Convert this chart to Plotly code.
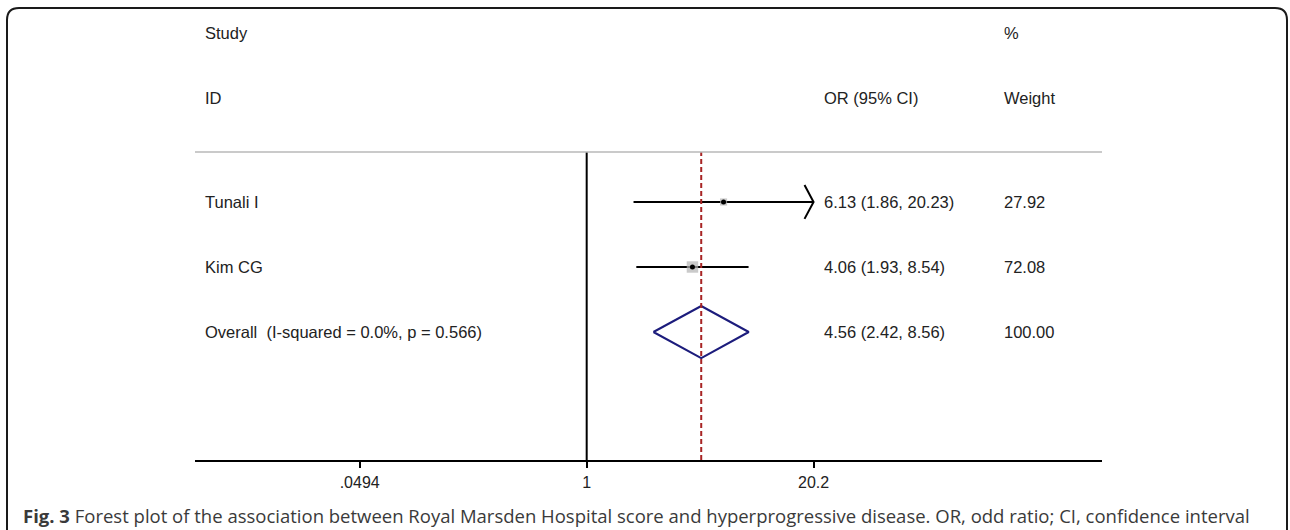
import plotly.graph_objects as go
import math

# ---------------- data ----------------
studies = ["Tunali I", "Kim CG"]
or_est = [6.13, 4.06]
ci_low = [1.86, 1.93]
ci_high = [20.23, 8.54]
weights = [27.92, 72.08]

overall_label = "Overall  (I-squared = 0.0%, p = 0.566)"
overall_or = 4.56
overall_low = 2.42
overall_high = 8.56
overall_weight = 100.00

tick_vals = [0.0494, 1, 20.2]
tick_text = [".0494", "1", "20.2"]

header_left = ["Study", "ID"]
header_or = ["", "OR (95% CI)"]
header_wt = ["%", "Weight"]

caption_bold = "Fig. 3"
caption_text = ("Forest plot of the association between Royal Marsden Hospital score and "
                "hyperprogressive disease. OR, odd ratio; CI, confidence interval")

# ---------------- layout helpers ----------------
W, H = 1290, 530
def px(x):
    return x / W
def py(y):
    return (H - y) / H

row_y = [4, 3]          # study rows
overall_y = 2
header_py = [33, 98]    # header rows (pixel positions)
x_max = max(tick_vals)  # axis clip value

TXT = "#222222"
FONT = "Liberation Sans, Arial, sans-serif"
FS = 16.5

fig = go.Figure()

# CI lines (clipped at axis max with arrow)
for i in range(len(studies)):
    hi = min(ci_high[i], x_max)
    fig.add_trace(go.Scatter(x=[ci_low[i], hi], y=[row_y[i], row_y[i]], mode="lines",
                             line=dict(color="black", width=2), hoverinfo="skip", showlegend=False))
    if ci_high[i] > x_max:
        back = 10 ** (math.log10(hi) - 0.052)
        fig.add_trace(go.Scatter(x=[back, hi, back], y=[row_y[i] + 0.26, row_y[i], row_y[i] - 0.26],
                                 mode="lines", line=dict(color="black", width=2),
                                 hoverinfo="skip", showlegend=False))

# weight squares
fig.add_trace(go.Scatter(x=or_est, y=row_y, mode="markers",
                         marker=dict(symbol="square", color="#b4b4b4",
                                     size=[1.35 * math.sqrt(w) for w in weights], line=dict(width=0)),
                         hoverinfo="skip", showlegend=False))
# point estimates
fig.add_trace(go.Scatter(x=or_est, y=row_y, mode="markers",
                         marker=dict(symbol="circle", color="black", size=5),
                         hoverinfo="skip", showlegend=False))

# overall diamond
fig.add_trace(go.Scatter(x=[overall_low, overall_or, overall_high, overall_or, overall_low],
                         y=[overall_y, overall_y + 0.4, overall_y, overall_y - 0.4, overall_y],
                         mode="lines", line=dict(color="#1c1c7c", width=2),
                         hoverinfo="skip", showlegend=False))

shapes = []
# null line at 1
shapes.append(dict(type="line", xref="x", yref="y domain", x0=1, x1=1, y0=0, y1=1,
                   line=dict(color="black", width=2)))
# overall dashed line
shapes.append(dict(type="line", xref="x", yref="y domain", x0=overall_or, x1=overall_or, y0=0, y1=1,
                   line=dict(color="#a82424", width=2, dash="5px,3px")))
# top gray rule
shapes.append(dict(type="line", xref="x domain", yref="y domain", x0=0, x1=1, y0=1, y1=1,
                   line=dict(color="#b8b8b8", width=1.5)))
# rounded border
xl, xr, yt, yb = px(7), px(1287), py(8), -0.05
rx, ry = 12 / W, 12 / H
path = (f"M {xl},{yb} L {xl},{yt - ry} Q {xl},{yt} {xl + rx},{yt} "
        f"L {xr - rx},{yt} Q {xr},{yt} {xr},{yt - ry} L {xr},{yb}")
shapes.append(dict(type="path", xref="paper", yref="paper", path=path,
                   line=dict(color="#1a1a1a", width=2)))

ann = []
def txt(x, y, s, yref="y"):
    ann.append(dict(x=x, y=y, xref="paper", yref=yref, text=s, showarrow=False,
                    xanchor="left", yanchor="middle",
                    font=dict(family=FONT, size=FS, color=TXT)))

for i, (a, b, c) in enumerate(zip(header_left, header_or, header_wt)):
    yy = py(header_py[i])
    txt(px(203), yy, a, "paper")
    if b:
        txt(px(822), yy, b, "paper")
    txt(px(1002), yy, c, "paper")

for i in range(len(studies)):
    txt(px(203), row_y[i], studies[i])
    txt(px(822), row_y[i], f"{or_est[i]:.2f} ({ci_low[i]:.2f}, {ci_high[i]:.2f})")
    txt(px(1002), row_y[i], f"{weights[i]:.2f}")

txt(px(203), overall_y, overall_label)
txt(px(822), overall_y, f"{overall_or:.2f} ({overall_low:.2f}, {overall_high:.2f})")
txt(px(1002), overall_y, f"{overall_weight:.2f}")

ann.append(dict(x=px(21), y=py(515), xref="paper", yref="paper",
                text=f"<b>{caption_bold}</b> {caption_text}", showarrow=False,
                xanchor="left", yanchor="middle",
                font=dict(family="Open Sans, sans-serif", size=18.5, color="#3a3a3a")))

fig.update_layout(
    width=W, height=H, autosize=False,
    margin=dict(l=0, r=0, t=0, b=0),
    paper_bgcolor="white", plot_bgcolor="white",
    shapes=shapes, annotations=ann,
    xaxis=dict(type="log", domain=[px(195), px(1102)], range=[-2.2537, 2.965],
               tickvals=tick_vals, ticktext=tick_text, ticks="outside", ticklen=6,
               tickwidth=1.5, tickcolor="black", showline=True, linecolor="black", linewidth=1.5,
               showgrid=False, zeroline=False, ticklabelstandoff=1,
               tickfont=dict(family=FONT, size=16, color=TXT)),
    yaxis=dict(domain=[py(460), py(152)], range=[0.031, 4.769], visible=False,
               showgrid=False, zeroline=False),
)

fig.write_html("out.html", config={"displayModeBar": False},
               post_script="document.body.style.margin='0';document.body.style.overflow='hidden';")
